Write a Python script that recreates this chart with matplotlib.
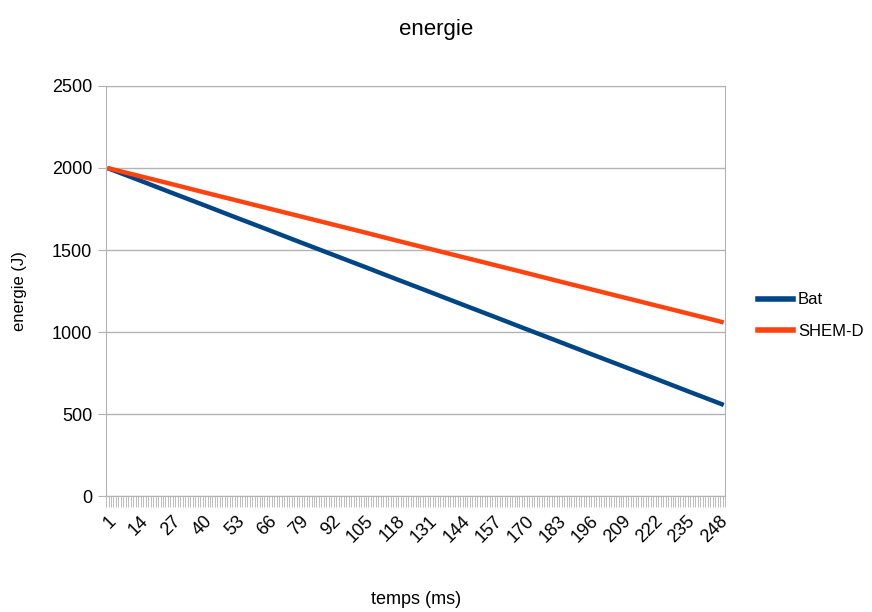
import matplotlib.pyplot as plt
import numpy as np
from matplotlib.lines import Line2D
from matplotlib.ticker import FixedLocator

plt.rcParams["font.family"] = ["Liberation Sans", "DejaVu Sans"]

# categories 1..250 (time steps in ms), values read at the labelled steps
n_steps = 250
time_labels = [1, 14, 27, 40, 53, 66, 79, 92, 105, 118, 131, 144, 157, 170,
               183, 196, 209, 222, 235, 248, 250]
bat = [2000, 1925, 1849, 1774, 1698, 1623, 1547, 1472, 1397, 1321, 1246,
       1170, 1095, 1019, 944, 868, 793, 718, 642, 567, 555]
shem_d = [2000, 1951, 1902, 1852, 1803, 1754, 1705, 1656, 1607, 1557, 1508,
          1459, 1410, 1361, 1311, 1262, 1213, 1164, 1115, 1066, 1058]
tick_labels = time_labels[:-1]

BLUE = "#004586"
ORANGE = "#ff420e"
GREY = "#b3b3b3"

fig = plt.figure(figsize=(8.72, 6.12), dpi=100)
ax = fig.add_axes((0.1216, 0.1895, 0.7098, 0.67))

ax.plot(time_labels, bat, color=BLUE, lw=3.2, solid_capstyle="butt")
ax.plot(time_labels, shem_d, color=ORANGE, lw=3.2, solid_capstyle="butt")

ax.set_xlim(0.5, n_steps + 0.5)
ax.set_ylim(0, 2500)
ax.set_yticks(np.arange(0, 2501, 500))
ax.yaxis.grid(True, color=GREY, lw=1)
ax.set_axisbelow(True)

ax.xaxis.set_major_locator(FixedLocator(tick_labels))
ax.set_xticklabels([str(t) for t in tick_labels], rotation=45, ha="right",
                   rotation_mode="anchor", fontsize=13)
ax.xaxis.set_minor_locator(FixedLocator(np.arange(0.5, n_steps + 1, 1)))
ax.tick_params(axis="x", which="major", length=0, pad=12)
ax.tick_params(axis="x", which="minor", length=8, width=0.6, color=GREY)
ax.tick_params(axis="y", length=6, color=GREY, labelsize=13, pad=4)

for spine in ax.spines.values():
    spine.set_color(GREY)

ax.set_ylabel("energie (J)", fontsize=12, labelpad=18)
fig.text(0.477, 0.021, "temps (ms)", ha="center", va="center", fontsize=13)
fig.text(0.5, 0.951, "energie", ha="center", va="center", fontsize=16)

handles = [Line2D([], [], color=BLUE, lw=4), Line2D([], [], color=ORANGE, lw=4)]
fig.legend(handles, ["Bat", "SHEM-D"], loc="center left",
           bbox_to_anchor=(0.852, 0.484), frameon=False, fontsize=12,
           handlelength=2.1, handletextpad=0.3, labelspacing=1.0)

fig.savefig("out.png", dpi=100)
